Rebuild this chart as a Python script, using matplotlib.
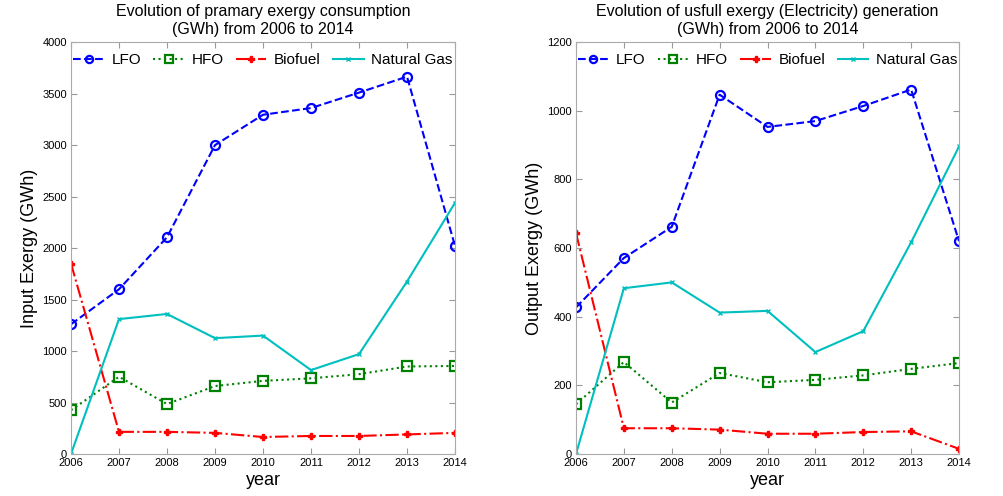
import matplotlib
matplotlib.use('Agg')
import matplotlib.pyplot as plt

plt.rcParams['font.family'] = ['Liberation Sans', 'DejaVu Sans']

years = [2006, 2007, 2008, 2009, 2010, 2011, 2012, 2013, 2014]

# primary exergy consumption (GWh)
lfo_in = [1260, 1600, 2105, 3000, 3295, 3360, 3510, 3665, 2020]
hfo_in = [425, 750, 485, 660, 710, 735, 775, 850, 855]
bio_in = [1850, 215, 215, 205, 165, 175, 175, 190, 205]
gas_in = [0, 1310, 1360, 1125, 1150, 815, 970, 1675, 2440]

# useful exergy (electricity) generation (GWh)
lfo_out = [427, 571, 662, 1047, 953, 970, 1014, 1062, 620]
hfo_out = [145, 268, 150, 236, 209, 216, 229, 248, 265]
bio_out = [644, 75, 75, 71, 59, 59, 64, 66, 15]
gas_out = [0, 483, 500, 412, 417, 297, 358, 617, 896]

fig = plt.figure(figsize=(10.04, 4.96), dpi=100)
ax1 = fig.add_axes([0.0707, 0.0847, 0.3825, 0.8303])
ax2 = fig.add_axes([0.5737, 0.0847, 0.3815, 0.8303])


def draw(ax, lfo, hfo, bio, gas, ymax, ystep, title, ylabel):
    ax.plot(years, lfo, '--', color='#0000ff', marker='o', markersize=6.5,
            markerfacecolor='none', markeredgewidth=1.6, lw=1.5, label='LFO')
    ax.plot(years, hfo, ':', color='#008000', marker='s', markersize=6.5,
            markerfacecolor='none', markeredgewidth=1.6, lw=1.5, label='HFO')
    ax.plot(years, bio, '-.', color='#ff0000', marker='P', markersize=5,
            lw=1.5, label='Biofuel')
    ax.plot(years, gas, '-', color='#00bfbf', marker='x', markersize=3,
            lw=1.5, label='Natural Gas')
    ax.set_xlim(2006, 2014)
    ax.set_ylim(0, ymax)
    ax.set_xticks(years)
    ax.set_yticks(range(0, ymax + 1, ystep))
    ax.tick_params(direction='in', labelsize=8, length=4, color='#999999',
                   top=True, right=True)
    ax.tick_params(axis='x', pad=3)
    ax.tick_params(axis='y', pad=3)
    for s in ax.spines.values():
        s.set_color('#aaaaaa')
    ax.set_title(title, fontsize=11.5)
    ax.set_xlabel('year', fontsize=13, labelpad=3)
    ax.set_ylabel(ylabel, fontsize=13, labelpad=3)
    ax.legend(loc='upper center', ncol=4, frameon=False, fontsize=11,
              handlelength=2.0, columnspacing=0.8, handletextpad=0.5,
              borderaxespad=0.3, markerscale=0.8)


draw(ax1, lfo_in, hfo_in, bio_in, gas_in, 4000, 500,
     'Evolution of pramary exergy consumption\n(GWh) from 2006 to 2014',
     'Input Exergy (GWh)')
draw(ax2, lfo_out, hfo_out, bio_out, gas_out, 1200, 200,
     'Evolution of usfull exergy (Electricity) generation\n(GWh) from 2006 to 2014',
     'Output Exergy (GWh)')

fig.savefig('out.png', dpi=100)
